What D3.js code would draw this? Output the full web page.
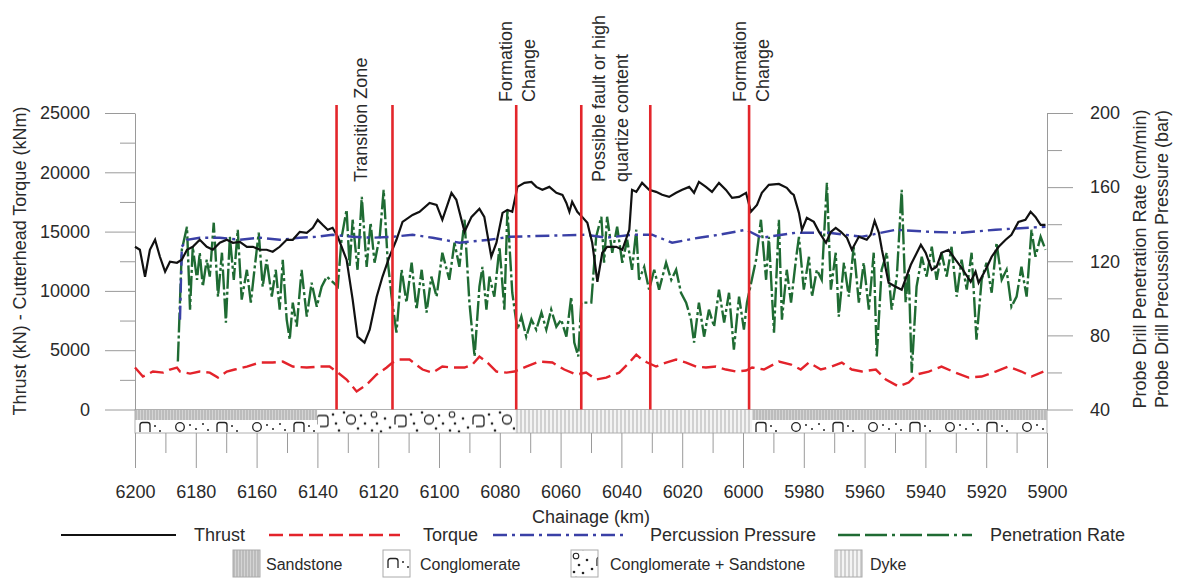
<!DOCTYPE html>
<html>
<head>
<meta charset="utf-8">
<script src="https://cdn.jsdelivr.net/npm/d3@7"></script>
<style>
  body { margin: 0; background: #fff; }
  svg { display: block; }
  text { font-family: "Liberation Sans", Arial, sans-serif; fill: #2a2a2a; }
</style>
</head>
<body>
<svg id="chart" width="1178" height="581"></svg>
<script>
// ---- data (chainage km, value) ----
const thrust = [
  [6200,13720],[6198.4,13470],[6196.7,11190],[6195.1,13470],[6193.4,14310],[6191.8,12880],[6190.1,11620],
  [6188.5,12460],[6186.2,12370],[6184.6,12630],[6182.9,13470],[6181,13720],[6178.7,14310],[6176.4,13720],
  [6174.4,13470],[6172.1,14060],[6169.8,14310],[6167.8,14060],[6165.5,14140],[6163.2,13720],[6161.2,13720],
  [6158.9,13470],[6156.7,13470],[6154.7,13300],[6152.4,13720],[6150.1,14310],[6148.1,14310],[6145.8,14980],
  [6143.5,14900],[6141.5,15320],[6139.9,15990],[6138.3,15570],[6136.6,15150],[6135,15320],[6133.3,14560],
  [6130.4,12630],[6128.4,9260],[6126.8,6140],[6124.5,5640],[6122.8,6730],[6120.5,9510],[6118.6,11190],
  [6116.3,12880],[6114,14310],[6112,15820],[6108.7,16410],[6106.4,16670],[6103.1,17420],[6100.8,17250],
  [6098.9,15990],[6095.9,18270],[6094.3,17680],[6091.6,14980],[6089.3,16240],[6086.7,16920],[6085.1,16240],
  [6082.8,12880],[6081.1,14060],[6079.1,16580],[6077.5,16830],[6075.9,16670],[6074.2,18770],[6071.9,19110],
  [6069.6,19190],[6068,18770],[6066,18520],[6063.7,18770],[6061.4,18270],[6059.4,18100],[6058.1,17420],
  [6057.1,16670],[6056.2,17510],[6054.5,16670],[6052.9,16240],[6051.2,15740],[6049.6,14060],[6047.9,10770],
  [6046.3,13210],[6044.7,13720],[6041.7,13720],[6039.7,13470],[6037.4,15150],[6036.5,18520],[6035.1,18350],
  [6033.2,19110],[6030.9,18520],[6028.6,18350],[6026.6,18100],[6024.3,17930],[6022,18270],[6020,18520],
  [6017.7,18770],[6016.1,18270],[6014.5,19190],[6012.2,18770],[6010.2,18350],[6007.9,19110],[6005.6,18520],
  [6003.6,17840],[6001.3,17930],[5999,18270],[5997.4,16670],[5995.4,17250],[5993.8,18270],[5991.5,18940],
  [5988.2,19020],[5985.6,18690],[5984.2,18270],[5983.3,18100],[5981.6,16580],[5980.6,15150],[5979,16160],
  [5976.7,15820],[5975,14980],[5972.7,14060],[5971.1,14980],[5969.5,15320],[5967.8,14980],[5965.8,14480],
  [5964.2,13470],[5961.9,14560],[5959.3,14310],[5958,14730],[5956.7,15910],[5955.3,14900],[5954.3,13470],
  [5952.1,10690],[5949.8,10350],[5947.8,10100],[5944.8,12200],[5941.5,13890],[5939.9,13210],[5937.9,11780],
  [5936.3,12040],[5934.7,13210],[5932.4,13470],[5930.1,12630],[5928.1,11950],[5925.1,10770],[5923.5,11620],
  [5922.5,10690],[5920.2,11780],[5918.2,12880],[5915.9,13720],[5913.6,14310],[5911.7,14730],[5909.4,15820],
  [5907.1,15990],[5905.4,16670],[5903.8,16240],[5902.1,15570],[5900.5,15570]
];

const torque = [
  [6200,3540],[6197.4,2780],[6194.1,3200],[6190.8,3110],[6188.5,3370],[6186.2,3540],[6185.2,3200],
  [6181.9,3030],[6178.7,3200],[6175.4,3110],[6172.7,2690],[6169.8,3200],[6167.2,3370],[6163.2,3620],
  [6158.9,3960],[6154.7,3960],[6151.4,4040],[6148.1,3620],[6143.5,3540],[6139.2,3620],[6136,3620],
  [6133.7,3200],[6130.4,2530],[6127.1,1520],[6123.8,2100],[6120.5,2950],[6117.2,3540],[6115.3,3960],
  [6113,4210],[6109.7,4210],[6105.4,3370],[6102.1,3110],[6098.9,3620],[6095.6,3540],[6091.6,3540],
  [6089,3790],[6086.7,4460],[6084.1,3960],[6081.1,3200],[6077.8,3110],[6075.2,3200],[6071.3,3620],
  [6067,4040],[6062.7,3960],[6058.8,3370],[6054.8,2950],[6051.6,3110],[6048.3,2530],[6045,2690],
  [6040.7,3110],[6037.4,3960],[6035.1,4630],[6033.2,4210],[6031.5,3960],[6028.6,3620],[6025.3,3960],
  [6022,4210],[6018.7,3960],[6015.4,3620],[6012.2,3540],[6008.9,3620],[6005.6,3370],[6002.3,3200],
  [5999,3290],[5997,3540],[5993.1,3370],[5988.2,4040],[5984.2,3790],[5981,3370],[5978.3,3960],
  [5974.4,3370],[5970.8,3620],[5967.5,3960],[5964.2,3370],[5960.9,3200],[5956.3,3370],[5953,2530],
  [5948.8,1940],[5945.5,2270],[5942.9,2950],[5938.9,3200],[5934.7,3620],[5930.1,3110],[5925.8,2690],
  [5921.5,2780],[5916.9,3200],[5912.7,3620],[5908.4,3200],[5905.1,2780],[5901.2,3200]
];

const percussion = [
  [6185.2,88.5],[6184.6,127.8],[6182.9,131.6],[6178.7,132.7],[6172.1,132.7],[6165.5,131.6],[6158.9,132.7],
  [6152.4,131.6],[6145.8,132.7],[6140.2,133.2],[6135,134.3],[6128.4,133.2],[6121.8,132.7],[6115.3,133.2],
  [6108.7,134.3],[6102.1,132.7],[6093.3,130],[6083.4,131.6],[6076.8,133.2],[6063.7,133.8],[6051.6,134.3],
  [6045,132.7],[6036.5,134.3],[6029.9,134.3],[6023.3,130],[6014.5,132.7],[6007.9,134.3],[5999,137],
  [5993.8,132.7],[5982.6,135.4],[5971.8,135.4],[5960.9,133.2],[5949.8,137],[5938.9,135.9],[5928.1,135.4],
  [5916.9,137],[5906.1,138.1],[5900.5,138.6]
];

const penetration = [
  [6185.9,65.9],[6184.6,126.2],[6182.9,138.6],[6181.9,93.9],[6181,127.8],[6179.6,110],[6178.7,124.6],
  [6177.7,106.3],[6176.4,120.8],[6175.4,111.7],[6174.1,140.8],[6172.7,100.9],[6171.4,124.6],[6170.1,86.9],
  [6168.8,133.2],[6167.5,110],[6166.2,137],[6164.9,99.3],[6163.2,115.4],[6161.9,97.7],[6160.6,117],
  [6159.3,135.4],[6158,106.3],[6156.7,120.8],[6155,100.9],[6153.7,115.4],[6152.4,93.9],[6151.4,120.8],
  [6150.1,88.5],[6149.1,77.7],[6148.1,97.7],[6146.8,84.7],[6145.2,115.4],[6143.5,90.1],[6141.9,108.4],
  [6140.2,95.5],[6138.6,106.3],[6136.9,111.7],[6133.3,106.3],[6132,133.2],[6130.4,147.8],[6129.4,117],
  [6128.4,142.4],[6126.8,115.4],[6125.4,154.8],[6123.8,117],[6122.5,140.8],[6121.2,119.2],[6119.5,133.2],
  [6118.2,158.5],[6116.9,120.8],[6115.6,100.9],[6114,81.5],[6112.3,115.4],[6110.7,97.7],[6109,119.2],
  [6107.4,93.9],[6105.7,115.4],[6104.1,92.3],[6102.5,111.7],[6100.8,100.9],[6098.9,124.6],[6096.6,110],
  [6094.9,130],[6093.3,117],[6091.6,142.4],[6090,97.7],[6088.3,68.6],[6086.7,106.3],[6085.7,117],
  [6084.4,93.9],[6083.4,111.7],[6081.8,100.9],[6080.1,127.8],[6078.5,93.9],[6077.5,147.8],[6075.9,103],
  [6074.2,83.1],[6072.9,90.1],[6071.3,79.3],[6069.6,88.5],[6068,83.1],[6066.3,92.3],[6064.7,83.1],
  [6063.1,93.9],[6061.4,84.7],[6059.8,88.5],[6058.1,79.3],[6056.5,100.9],[6055.5,76.1],[6054.2,68.6],
  [6053.2,97.7],[6049.9,97.7],[6048.3,133.2],[6046.6,144],[6045.7,119.2],[6044.7,144],[6043,124.6],
  [6041.4,138.6],[6039.7,119.2],[6038.1,131.6],[6036.5,115.4],[6035.1,137],[6034.2,110],[6032.5,117],
  [6030.9,104.7],[6029.2,115.4],[6027.6,104.7],[6025.3,119.2],[6023.6,110],[6022,115.4],[6020.4,103],
  [6018.7,97.7],[6017.1,88.5],[6016.1,76.1],[6014.5,97.7],[6012.8,79.3],[6011.2,93.9],[6009.5,84.7],
  [6007.9,104.7],[6006.2,86.9],[6004.6,103],[6003,72.3],[6001.3,100.9],[5999.7,83.1],[5998.7,97.7],
  [5995.7,120.8],[5994.1,142.4],[5992.4,110],[5991.5,133.2],[5989.8,81.5],[5988.2,142.4],[5987.2,88.5],
  [5985.6,115.4],[5984.2,97.7],[5982.6,120.8],[5981.6,133.2],[5980,104.7],[5978.3,122.4],[5977.3,100.9],
  [5975.7,115.4],[5974.1,110],[5972.4,162.3],[5971.1,104.7],[5969.5,124.6],[5968.5,90.1],[5966.8,119.2],
  [5965.2,100.9],[5963.6,127.8],[5961.9,97.7],[5960.3,119.2],[5958.6,93.9],[5957,124.6],[5956,68.6],
  [5954.4,115.4],[5952.7,124.6],[5951.1,93.9],[5949.4,111.7],[5947.8,158.5],[5946.5,97.7],[5945.5,115.4],
  [5944.5,59.9],[5942.9,106.3],[5941.2,122.4],[5939.6,111.7],[5937.9,127.8],[5936.3,110],[5934.7,124.6],
  [5933,111.7],[5931.4,127.8],[5929.7,100.9],[5928.1,120.8],[5926.4,104.7],[5924.8,124.6],[5923.2,77.7],
  [5921.5,110],[5919.9,119.2],[5918.2,103],[5916.6,130],[5914.9,110],[5913.3,115.4],[5911.7,95.5],
  [5910,100.9],[5908.4,117],[5906.7,100.9],[5905.1,137],[5903.8,122.4],[5902.1,133.2],[5900.5,126.2]
];

// geology band: [from, to, kind]
const geoFrom = [6200, 6140, 6075, 5997];
const geoTo   = [6140, 6075, 5997, 5900];
const geoKind = ["split", "congsand", "dyke", "split"];

// red marker lines (chainage)
const markers = [6133.7, 6115.3, 6074.6, 6053.2, 6030.5, 5998];

// annotations
const noteAt    = [6125.5, 6074.1, 6043.5, 5997.2];
const noteLines = [["Transition Zone"], ["Formation", "Change"], ["Possible fault or high", "quartize content"], ["Formation", "Change"]];

const leftTicks  = [0, 5000, 10000, 15000, 20000, 25000];
const rightTicks = [40, 80, 120, 160, 200];
const xTicks     = d3.range(6200, 5899, -20);

const seriesNames  = ["Thrust", "Torque", "Percussion Pressure", "Penetration Rate"];
const geoNames     = ["Sandstone", "Conglomerate", "Conglomerate + Sandstone", "Dyke"];

// ---- layout ----
const svg = d3.select("#chart");
const x  = d3.scaleLinear().domain([6200, 5900]).range([135, 1047]);
const yL = d3.scaleLinear().domain([0, 25000]).range([409.5, 113]);
const yR = d3.scaleLinear().domain([40, 200]).range([409.5, 113]);
const bandTop = 409.5, bandMid = 420, bandBot = 433;
const grey = "#9a9a9a";
const col = { thrust: "#111", torque: "#e3232b", perc: "#3a40a6", pen: "#1f6b33", marker: "#e3262b" };

const defs = svg.append("defs");

function makePatterns(suffix, ox, oy, oyMid, congH) {
  const sand = defs.append("pattern").attr("id", "sand" + suffix)
    .attr("patternUnits", "userSpaceOnUse").attr("width", 3).attr("height", 3)
    .attr("x", ox).attr("y", oy);
  sand.append("rect").attr("width", 3).attr("height", 3).attr("fill", "#d4d4d4");
  sand.append("line").attr("x1", 1).attr("x2", 1).attr("y1", 0).attr("y2", 3)
    .attr("stroke", "#a4a4a4").attr("stroke-width", 1);

  const dyke = defs.append("pattern").attr("id", "dyke" + suffix)
    .attr("patternUnits", "userSpaceOnUse").attr("width", 4).attr("height", 4)
    .attr("x", ox).attr("y", oy);
  dyke.append("rect").attr("width", 4).attr("height", 4).attr("fill", "#f4f4f4");
  dyke.append("line").attr("x1", 2).attr("x2", 2).attr("y1", 0).attr("y2", 4)
    .attr("stroke", "#b4b4b4").attr("stroke-width", 1.1);

  const cong = defs.append("pattern").attr("id", "cong" + suffix)
    .attr("patternUnits", "userSpaceOnUse").attr("width", 77).attr("height", congH)
    .attr("x", ox).attr("y", oyMid);
  cong.append("rect").attr("width", 77).attr("height", congH).attr("fill", "#fff");
  cong.append("path").attr("d", "M5,12V5Q5,2.5 7.5,2.5H12.5Q15,2.5 15,5V12")
    .attr("fill", "none").attr("stroke", "#222").attr("stroke-width", 1.3);
  cong.append("circle").attr("cx", 45).attr("cy", 7).attr("r", 4.3)
    .attr("fill", "none").attr("stroke", "#222").attr("stroke-width", 1.3);
  [[20, 6], [25, 11], [55, 5], [61, 9], [68, 4], [73, 10]].forEach(([cx, cy]) =>
    cong.append("circle").attr("cx", cx).attr("cy", cy).attr("r", 1).attr("fill", "#222"));

  const cs = defs.append("pattern").attr("id", "cs" + suffix)
    .attr("patternUnits", "userSpaceOnUse").attr("width", 78).attr("height", 24)
    .attr("x", ox).attr("y", oy);
  cs.append("rect").attr("width", 78).attr("height", 24).attr("fill", "#fff");
  cs.append("path").attr("d", "M26,15V9Q26,6 29,6H34Q37,6 37,9V15Q37,17 34,17H29")
    .attr("fill", "none").attr("stroke", "#222").attr("stroke-width", 1.3);
  cs.append("circle").attr("cx", 60).attr("cy", 10).attr("r", 4.5)
    .attr("fill", "none").attr("stroke", "#222").attr("stroke-width", 1.3);
  cs.append("circle").attr("cx", 5).attr("cy", 5).attr("r", 2.8)
    .attr("fill", "none").attr("stroke", "#222").attr("stroke-width", 1.1);
  [[8, 14], [12, 22], [16, 9], [21, 18], [42, 5], [45, 14], [48, 21], [53, 3], [67, 19], [70, 6], [74, 14], [3, 21]]
    .forEach(([cx, cy]) => cs.append("circle").attr("cx", cx).attr("cy", cy).attr("r", 1.3).attr("fill", "#222"));
}
makePatterns("", 135, bandTop, bandMid, 14);

// ---- geology band ----
const band = svg.append("g");
geoKind.forEach((k, i) => {
  const x0 = x(geoFrom[i]), x1 = x(geoTo[i]);
  if (k === "split") {
    band.append("rect").attr("x", x0).attr("y", bandTop).attr("width", x1 - x0).attr("height", bandMid - bandTop)
      .attr("fill", "url(#sand)");
    band.append("rect").attr("x", x0).attr("y", bandMid).attr("width", x1 - x0).attr("height", bandBot - bandMid)
      .attr("fill", "url(#cong)");
  } else {
    band.append("rect").attr("x", x0).attr("y", bandTop).attr("width", x1 - x0).attr("height", bandBot - bandTop)
      .attr("fill", k === "dyke" ? "url(#dyke)" : "url(#cs)");
  }
});
band.append("rect").attr("x", x(6200)).attr("y", bandTop).attr("width", x(5900) - x(6200))
  .attr("height", bandBot - bandTop).attr("fill", "none").attr("stroke", "#b0b0b0").attr("stroke-width", 1);

// ---- axes ----
function styleAxis(g) {
  g.selectAll("path.domain").attr("stroke", grey);
  g.selectAll(".tick line").attr("stroke", grey);
  g.selectAll(".tick text").attr("font-size", 18).attr("fill", "#2e2e2e")
    .attr("font-family", '"Liberation Sans", Arial, sans-serif');
}

const gL = svg.append("g").attr("transform", "translate(135,0)")
  .call(d3.axisLeft(yL).tickValues(leftTicks).tickSize(30).tickSizeOuter(0).tickPadding(15)
    .tickFormat(d3.format("d")));
styleAxis(gL);
svg.append("g").attr("transform", "translate(135,0)")
  .call(d3.axisLeft(yL).tickValues(d3.range(2500, 25000, 5000)).tickSize(15).tickFormat(""))
  .call(g => g.select("path.domain").remove()).call(styleAxis);

const gR = svg.append("g").attr("transform", "translate(1047,0)")
  .call(d3.axisRight(yR).tickValues(rightTicks).tickSize(26).tickSizeOuter(0).tickPadding(17));
styleAxis(gR);
svg.append("g").attr("transform", "translate(1047,0)")
  .call(d3.axisRight(yR).tickValues(d3.range(60, 200, 40)).tickSize(15).tickFormat(""))
  .call(g => g.select("path.domain").remove()).call(styleAxis);

const gX = svg.append("g").attr("transform", `translate(0,${bandBot})`)
  .call(d3.axisBottom(x).tickValues(xTicks).tickSize(35).tickPadding(17).tickFormat(d3.format("d")))
  .call(g => g.select("path.domain").remove());
styleAxis(gX);
svg.append("g").attr("transform", `translate(0,${bandBot})`)
  .call(d3.axisBottom(x).tickValues(d3.range(6190, 5900, -20)).tickSize(20).tickFormat(""))
  .call(g => g.select("path.domain").remove()).call(styleAxis);

// axis titles
svg.append("text").attr("transform", "translate(20,261) rotate(-90)")
  .attr("text-anchor", "middle").attr("dominant-baseline", "central").attr("font-size", 18)
  .text("Thrust (kN) - Cutterhead Torque (kNm)");
svg.append("text").attr("transform", "translate(1140,259) rotate(-90)")
  .attr("text-anchor", "middle").attr("dominant-baseline", "central").attr("font-size", 18)
  .text("Probe Drill Penetration Rate (cm/min)");
svg.append("text").attr("transform", "translate(1162,259) rotate(-90)")
  .attr("text-anchor", "middle").attr("dominant-baseline", "central").attr("font-size", 18)
  .text("Probe Drill Precussion Pressure (bar)");
svg.append("text").attr("x", 591).attr("y", 517).attr("text-anchor", "middle")
  .attr("dominant-baseline", "central").attr("font-size", 18).text("Chainage (km)");

// ---- series ----
const lineL = d3.line().x(d => x(d[0])).y(d => yL(d[1]));
const lineR = d3.line().x(d => x(d[0])).y(d => yR(d[1]));
const plot = svg.append("g");

plot.append("path").datum(penetration).attr("d", lineR).attr("fill", "none")
  .attr("stroke", col.pen).attr("stroke-width", 2.4).attr("stroke-dasharray", "20,3,3,3");
plot.append("path").datum(percussion).attr("d", lineR).attr("fill", "none")
  .attr("stroke", col.perc).attr("stroke-width", 2.4).attr("stroke-dasharray", "14,5,3,5");
plot.append("path").datum(torque).attr("d", lineL).attr("fill", "none")
  .attr("stroke", col.torque).attr("stroke-width", 2.4).attr("stroke-dasharray", "14,6");
plot.append("path").datum(thrust).attr("d", lineL).attr("fill", "none")
  .attr("stroke", col.thrust).attr("stroke-width", 2.2);

// ---- markers and notes ----
svg.append("g").selectAll("line").data(markers).join("line")
  .attr("x1", d => x(d)).attr("x2", d => x(d)).attr("y1", 105).attr("y2", bandTop)
  .attr("stroke", col.marker).attr("stroke-width", 2.6);

const noteBase = [182, 102, 182, 102];
noteAt.forEach((c, i) => {
  const lines = noteLines[i];
  lines.forEach((t, j) => {
    const px = x(c) + (j - (lines.length - 1) / 2) * 23;
    svg.append("text").attr("transform", `translate(${px},${noteBase[i]}) rotate(-90)`)
      .attr("text-anchor", "start").attr("dominant-baseline", "central").attr("font-size", 18).text(t);
  });
});

// ---- legend ----
const leg1 = svg.append("g");
const legLines = [
  { x0: 61, x1: 176, tx: 194, c: col.thrust, dash: null },
  { x0: 269, x1: 400, tx: 423, c: col.torque, dash: "14,6" },
  { x0: 493, x1: 628, tx: 650, c: col.perc, dash: "14,5,3,5" },
  { x0: 838, x1: 972, tx: 990, c: col.pen, dash: "22,5,22,5,3,5" }
];
legLines.forEach((l, i) => {
  leg1.append("line").attr("x1", l.x0).attr("x2", l.x1).attr("y1", 535).attr("y2", 535)
    .attr("stroke", l.c).attr("stroke-width", i === 0 ? 2.2 : 2.6).attr("stroke-dasharray", l.dash);
  leg1.append("text").attr("x", l.tx).attr("y", 535).attr("dominant-baseline", "central")
    .attr("font-size", 18).text(seriesNames[i]);
});

const swX = [233, 383, 571, 835];
const swTx = [266, 420, 610, 870];
const swKind = ["sand", "cong", "cs", "dyke"];
const leg2 = svg.append("g");
swKind.forEach((k, i) => {
  makePatterns("L" + i, swX[i], 551, 556, 30);
  leg2.append("rect").attr("x", swX[i]).attr("y", 550).attr("width", 27).attr("height", 27)
    .attr("fill", `url(#${k}L${i})`).attr("stroke", "#aaa").attr("stroke-width", 1);
  leg2.append("text").attr("x", swTx[i]).attr("y", 564).attr("dominant-baseline", "central")
    .attr("font-size", 16).text(geoNames[i]);
});
</script>
</body>
</html>
